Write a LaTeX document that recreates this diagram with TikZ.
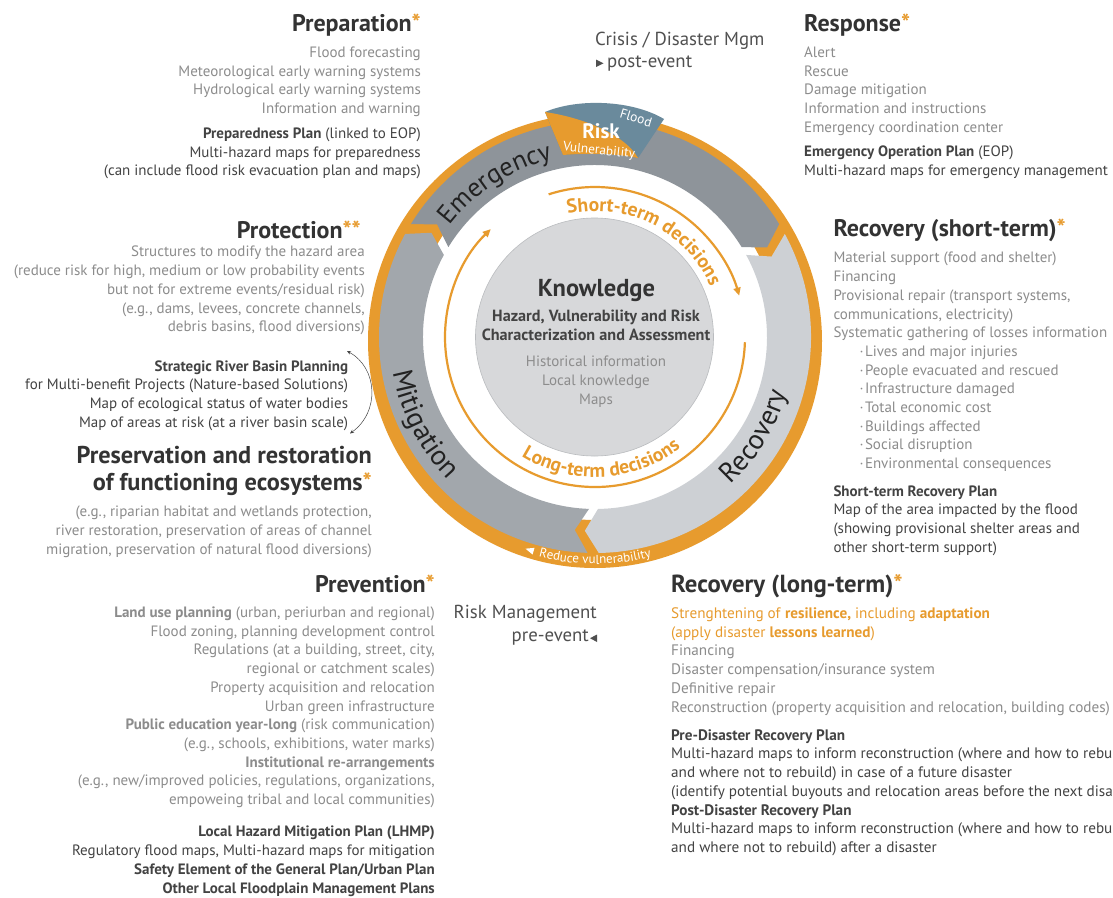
\documentclass[tikz,border=0pt]{standalone}
\usepackage{fontspec}
\setmainfont{PT Sans}
\newfontfamily\cond[FakeStretch=1.0]{PT Sans}
\usetikzlibrary{decorations.text,arrows.meta}
\definecolor{orangeC}{HTML}{E79B2E}
\definecolor{ttlC}{HTML}{333333}
\definecolor{grayT}{HTML}{8C8C8C}
\definecolor{darkT}{HTML}{434343}
\definecolor{bandA}{HTML}{8E949A}
\definecolor{bandB}{HTML}{A2A7AC}
\definecolor{bandC}{HTML}{CDD0D4}
\definecolor{riskB}{HTML}{6A8A9C}
\definecolor{coreF}{HTML}{D7D8DA}
\definecolor{coreD}{HTML}{BABCBF}
\definecolor{labelC}{HTML}{222222}
\definecolor{crisisC}{HTML}{505050}
\newcommand\fs[1]{\fontsize{#1}{18.7}\selectfont}
\newcommand\st{\rule{0pt}{12pt}}
\newcommand\bl{\hspace*{26pt}·\hspace{1.5pt}}
\tikzset{
  body/.style={inner sep=0pt, font=\fs{15}, text=grayT},
  bodyd/.style={inner sep=0pt, font=\fs{15}, text=darkT},
  ttl/.style={inner sep=0pt, font=\bfseries\fontsize{24}{28}\selectfont, text=ttlC},
  side/.style={inner sep=0pt, font=\fontsize{18.8}{22}\selectfont, text=crisisC},
  bandlabel/.style 2 args={decorate, decoration={text along path, text align=center, text color=labelC, text={|\fontsize{#2}{#2}\selectfont|#1}}},
  declabel/.style={decorate, decoration={text along path, text align=center, text color=orangeC, text={|\bfseries\fontsize{19.5}{19.5}\selectfont|#1}}},
  innerarc/.style={orangeC, line width=2.2pt, -{Triangle[length=8pt,width=7pt]}},
}
\begin{document}
\begin{tikzpicture}[x=1pt,y=1pt]
\path[use as bounding box] (0,0) rectangle (1113,-897);
\fill[white] (0,0) rectangle (1113,-897);
\clip (0,0) rectangle (1113,-897);

% ---------------- wheel ----------------
\begin{scope}[shift={(595,-337)}]
  \fill[orangeC, even odd rule] (0,-4) circle[radius=227] (0,0) circle[radius=183];
  % Emergency
  \fill[bandA] (148.5:216) arc[start angle=148.5,end angle=31.5,radius=216] -- (27.5:194)
     -- (31.5:172) arc[start angle=31.5,end angle=148.5,radius=172] -- (144.5:194) -- cycle;
  % Recovery
  \fill[bandC] (28.5:216) arc[start angle=28.5,end angle=-89,radius=216] -- (-93:194)
     -- (-89:172) arc[start angle=-89,end angle=28.5,radius=172] -- (24.5:194) -- cycle;
  % Mitigation
  \fill[bandB] (-92:216) arc[start angle=-92,end angle=-208.5,radius=216] -- (-212.5:194)
     -- (-208.5:172) arc[start angle=-208.5,end angle=-92,radius=172] -- (-96:194) -- cycle;
  % band labels
  \path[bandlabel={Emergency}{26.5}] (174:183) arc[start angle=174,end angle=72,radius=183];
  \path[bandlabel={Mitigation}{28}] (155:205) arc[start angle=155,end angle=259,radius=205];
  \path[bandlabel={Recovery}{28}] (-84:200) arc[start angle=-84,end angle=20,radius=200];
  % inner decision arcs
  \draw[innerarc] (108:150) arc[start angle=108,end angle=16,radius=150];
  \draw[innerarc] (-2:150) arc[start angle=-2,end angle=-226,radius=150];
  \path[declabel={Short-term decisions}] (120:126) arc[start angle=120,end angle=6,radius=126];
  \path[declabel={Long-term decisions}] (219:140) arc[start angle=219,end angle=327,radius=140];
  % reduce vulnerability
  \begin{scope}[shift={(0,-4)}]
    \path[decorate, decoration={text along path, text align=center, text color=white,
      text={|\fontsize{13}{13}\selectfont|Reduce vulnerability}}]
      (230:223) arc[start angle=230,end angle=310,radius=223];
    \fill[white] (251.5:219) -- (253.7:215.5) -- (253.7:222.5) -- cycle;
  \end{scope}
\end{scope}

% Risk wedge
\fill[riskB] (545,-112) .. controls (578,-98) and (632,-100) .. (664,-119) -- (638,-158)
   .. controls (613,-153) and (588,-153) .. (563,-155) -- cycle;
\fill[orangeC] (545,-112) .. controls (585,-118) and (625,-135) .. (638,-158)
   .. controls (613,-153) and (588,-153) .. (563,-155) -- cycle;
\node[inner sep=0pt, font=\bfseries\fontsize{21}{21}\selectfont, text=white, anchor=base] (risk) at (601,-138) {Risk};
\node[inner sep=0pt, font=\fontsize{13.3}{14}\selectfont, text=white, rotate=-6] (vuln) at (599,-151) {Vulnerability};
\node[inner sep=0pt, font=\fontsize{13.5}{14}\selectfont, text=white, rotate=-17] (flood) at (636,-118) {Flood};

% core
\node[circle, fill=coreF, draw=coreD, line width=0.6pt, minimum size=238pt, inner sep=0pt] (core) at (594.5,-337) {};
\node[inner sep=0pt, font=\bfseries\fontsize{24.5}{25}\selectfont, text=ttlC, anchor=base] (know) at (596.5,-296.7) {Knowledge};
\node[inner sep=0pt, font=\bfseries\fs{16.2}, text=darkT, align=center, anchor=north] (hvr) at (596,-309.3) {\st Hazard, Vulnerability and Risk\\Characterization and Assessment};
\node[body, align=center, anchor=north] (hist) at (596,-354.7) {\st Historical information\\Local knowledge\\Maps};

% ---------------- Preparation ----------------
\node[ttl, anchor=base east] (prepT) at (421,-31.7) {Preparation\textcolor{orangeC}{*}};
\node[body, anchor=north east, align=right] (prepL) at (421,-45.3) {\st Flood forecasting\\Meteorological early warning systems\\Hydrological early warning systems\\Information and warning};
\node[bodyd, anchor=north east, align=right] (prepP) at (421,-126.3) {\st\textbf{Preparedness Plan} (linked to EOP)\\Multi-hazard maps for preparedness\\(can include flood risk evacuation plan and maps)};

% ---------------- Response ----------------
\node[ttl, anchor=base west] (respT) at (804,-31.7) {Response\textcolor{orangeC}{*}};
\node[body, anchor=north west, align=left] (respL) at (804,-45.3) {\st Alert\\Rescue\\Damage mitigation\\Information and instructions\\Emergency coordination center};
\node[bodyd, anchor=north west, align=left] (respP) at (804,-144.7) {\st\textbf{Emergency Operation Plan} (EOP)\\Multi-hazard maps for emergency management};

% ---------------- Crisis / Risk mgmt ----------------
\node[side, anchor=base west] (crisis) at (595,-45) {Crisis / Disaster Mgm};
\node[side, anchor=base west] (post) at (607,-67) {post-event};
\fill[crisisC] (596,-59.5) -- (603.5,-63.3) -- (596,-67) -- cycle;
\node[side, anchor=base east] (riskm) at (597,-618.3) {Risk Management};
\node[side, anchor=base east] (pre) at (589,-641.7) {pre-event};
\fill[crisisC] (597,-634.5) -- (590,-638.2) -- (597,-642) -- cycle;

% ---------------- Protection ----------------
\node[ttl, anchor=base east] (protT) at (361,-238.3) {Protection\textcolor{orangeC}{**}};
\node[body, anchor=north east, align=right] (protL) at (365,-244.7) {\st Structures to modify the hazard area\\(reduce risk for high, medium or low probability events\\but not for extreme events/residual risk)\\(e.g., dams, levees, concrete channels,\\debris basins, flood diversions)};
\node[bodyd, anchor=north east, align=right] (strat) at (348.3,-359) {\st\textbf{Strategic River Basin Planning}\\for Multi-benefit Projects (Nature-based Solutions)\\Map of ecological status of water bodies\\Map of areas at risk (at a river basin scale)};
\coordinate (arT) at (347,-351);
\coordinate (arB) at (350,-433.5);
\draw[line width=0.5pt, darkT, {Stealth[length=4pt,width=3.5pt]}-{Stealth[length=4pt,width=3.5pt]}] (arT) .. controls (378,-368) and (380,-412) .. (arB);

% ---------------- Preservation ----------------
\node[ttl, font=\bfseries\fontsize{24.3}{28}\selectfont, anchor=base east] (presT) at (372,-463.3) {Preservation and restoration};
\node[ttl, font=\bfseries\fontsize{24.3}{28}\selectfont, anchor=base east] (presT2) at (372,-490) {of functioning ecosystems\textcolor{orangeC}{*}};
\node[body, anchor=north east, align=right] (presL) at (372,-504.7) {\st(e.g., riparian habitat and wetlands protection,\\river restoration, preservation of areas of channel\\migration, preservation of natural flood diversions)};

% ---------------- Recovery short-term ----------------
\node[ttl, anchor=base west] (rsT) at (833.3,-236.7) {Recovery (short-term)\textcolor{orangeC}{*}};
\node[body, anchor=north west, align=left] (rsL) at (833.3,-250.7) {\st Material support (food and shelter)\\Financing\\Provisional repair (transport systems,\\communications, electricity)\\Systematic gathering of losses information\\\bl Lives and major injuries\\\bl People evacuated and rescued\\\bl Infrastructure damaged\\\bl Total economic cost\\\bl Buildings affected\\\bl Social disruption\\\bl Environmental consequences};
\node[bodyd, anchor=north west, align=left] (rsP) at (833.3,-484) {\st\textbf{Short-term Recovery Plan}\\Map of the area impacted by the flood\\(showing provisional shelter areas and\\other short-term support)};

% ---------------- Prevention ----------------
\node[ttl, anchor=base east] (prevT) at (435,-592.3) {Prevention\textcolor{orangeC}{*}};
\node[body, anchor=north east, align=right] (prevL) at (435,-605.3) {\st\textbf{Land use planning} (urban, periurban and regional)\\Flood zoning, planning development control\\Regulations (at a building, street, city,\\regional or catchment scales)\\Property acquisition and relocation\\Urban green infrastructure\\\textbf{Public education year-long} (risk communication)\\(e.g., schools, exhibitions, water marks)\\\textbf{Institutional re-arrangements}\\(e.g., new/improved policies, regulations, organizations,\\empoweing tribal and local communities)};
\node[bodyd, anchor=north east, align=right] (prevP) at (435,-824.7) {\st\textbf{Local Hazard Mitigation Plan (LHMP)}\\Regulatory flood maps, Multi-hazard maps for mitigation\\\textbf{Safety Element of the General Plan/Urban Plan}\\\textbf{Other Local Floodplain Management Plans}};

% ---------------- Recovery long-term ----------------
\node[ttl, font=\cond\bfseries\fontsize{24.7}{28}\selectfont, anchor=base west] (rlT) at (671,-592.3) {Recovery (long-term)\textcolor{orangeC}{*}};
\node[body, font=\cond\fs{15.2}, anchor=north west, align=left] (rlL) at (671,-606.3) {\st\textcolor{orangeC}{Strenghtening of \textbf{resilience,} including \textbf{adaptation}}\\\textcolor{orangeC}{(apply disaster \textbf{lessons learned})}\\Financing\\Disaster compensation/insurance system\\Definitive repair\\Reconstruction (property acquisition and relocation, building codes)};
\node[bodyd, font=\cond\fs{15.2}, anchor=north west, align=left] (rlP) at (671,-728) {\st\textbf{Pre-Disaster Recovery Plan}\\Multi-hazard maps to inform reconstruction (where and how to rebuild\\and where not to rebuild) in case of a future disaster\\(identify potential buyouts and relocation areas before the next disaster)\\\textbf{Post-Disaster Recovery Plan}\\Multi-hazard maps to inform reconstruction (where and how to rebuild\\and where not to rebuild) after a disaster};
\end{tikzpicture}
\end{document}
